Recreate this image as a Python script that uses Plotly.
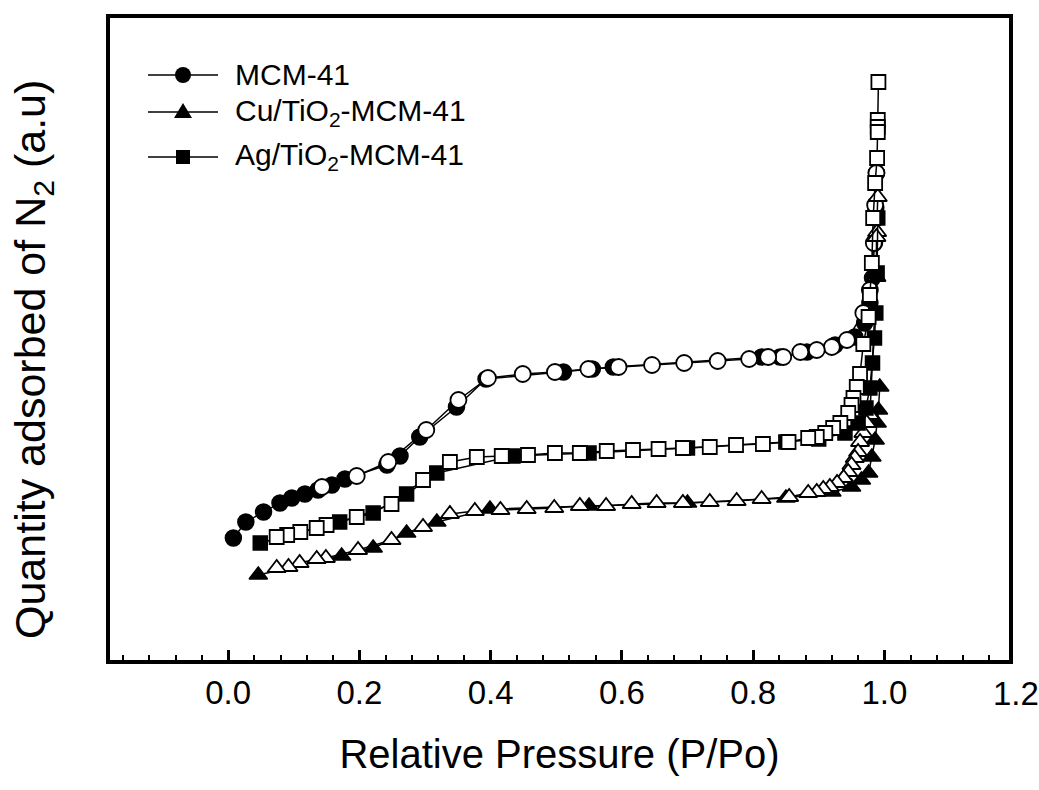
import plotly.graph_objects as go

# ---- N2 isotherm data: relative pressure P/Po vs. quantity adsorbed (a.u.) ----
# MCM-41
mcm_ads_p = [0.008, 0.027, 0.054, 0.079, 0.097, 0.117, 0.137, 0.158, 0.178, 0.242, 0.262,
             0.292, 0.348, 0.393, 0.511, 0.555, 0.587, 0.813, 0.841, 0.882, 0.925, 0.955,
             0.970, 0.978, 0.982, 0.985, 0.987, 0.988]
mcm_ads_q = [125, 141, 151, 160, 165, 169, 173, 178, 184, 198, 207,
             226, 256, 284, 291, 294, 296, 306, 306, 311, 318, 326,
             340, 360, 385, 420, 455, 490]
mcm_des_p = [0.988, 0.986, 0.984, 0.978, 0.968, 0.943, 0.920, 0.897, 0.872, 0.846, 0.823,
             0.794, 0.746, 0.695, 0.646, 0.595, 0.549, 0.498, 0.449, 0.396, 0.351, 0.302,
             0.244, 0.196, 0.143]
mcm_des_q = [490, 458, 420, 373, 350, 323, 316, 313, 311, 306, 306,
             304, 302, 300, 298, 296, 294, 291, 289, 285, 263, 233,
             201, 187, 176]

# Cu/TiO2-MCM-41
cu_ads_p = [0.046, 0.173, 0.221, 0.272, 0.318, 0.399, 0.55, 0.70, 0.85, 0.92, 0.95,
            0.965, 0.976, 0.981, 0.986, 0.989, 0.991, 0.993]
cu_ads_q = [88, 107, 115, 130, 141, 154, 157, 160, 165, 171, 176,
            183, 190, 206, 223, 240, 253, 276]
cu_des_p = [0.990, 0.989, 0.988, 0.988, 0.978, 0.973, 0.968, 0.963, 0.960, 0.955, 0.950,
            0.945, 0.938, 0.928, 0.917, 0.907, 0.897, 0.884, 0.855, 0.813, 0.775, 0.734,
            0.693, 0.653, 0.615, 0.576, 0.536, 0.497, 0.455, 0.415, 0.376, 0.338, 0.297,
            0.249, 0.198, 0.149, 0.135, 0.109, 0.092, 0.074]
cu_des_q = [466, 431, 426, 386, 248, 240, 230, 221, 211, 205, 198,
            191, 185, 180, 176, 174, 171, 170, 166, 164, 162, 161,
            160, 160, 159, 157, 157, 155, 154, 153, 152, 149, 136,
            123, 113, 105, 104, 100, 96, 95]

# Ag/TiO2-MCM-41
ag_ads_p = [0.049, 0.170, 0.221, 0.272, 0.318, 0.434, 0.55, 0.70, 0.85, 0.90, 0.94,
            0.96, 0.972, 0.978, 0.982, 0.985, 0.987, 0.989, 0.990]
ag_ads_q = [120, 141, 150, 169, 190, 207, 210, 215, 221, 224, 230,
            240, 255, 275, 300, 325, 350, 390, 445]
ag_des_p = [0.991, 0.990, 0.990, 0.990, 0.989, 0.986, 0.983, 0.981, 0.978, 0.976, 0.968,
            0.963, 0.958, 0.953, 0.950, 0.945, 0.933, 0.922, 0.910, 0.897, 0.884, 0.854,
            0.815, 0.774, 0.734, 0.693, 0.656, 0.617, 0.577, 0.536, 0.498, 0.457, 0.417,
            0.379, 0.338, 0.297, 0.249, 0.196, 0.150, 0.135, 0.110, 0.090, 0.074]
ag_des_q = [581, 543, 536, 531, 505, 480, 445, 400, 368, 346, 319,
            289, 276, 265, 258, 250, 240, 235, 230, 226, 225, 221,
            219, 218, 216, 215, 214, 213, 212, 210, 210, 208, 207,
            206, 201, 183, 159, 146, 138, 135, 131, 128, 126]

x_range = [-0.18, 1.19]
x_tick_vals = [0.0, 0.2, 0.4, 0.6, 0.8, 1.0]
x_tick_text = ["0.0", "0.2", "0.4", "0.6", "0.8", "1.0"]
x_end_label = (1.2, "1.2")   # axis stops just short of 1.2; its label is still printed

legend_labels = ["MCM-41", "Cu/TiO<sub>2</sub>-MCM-41", "Ag/TiO<sub>2</sub>-MCM-41"]
legend_symbols = ["circle", "triangle", "square"]

FONT = "Liberation Sans, Arial, Helvetica, sans-serif"
TICK_SIZE = 33

series = [
    (mcm_ads_p, mcm_ads_q, mcm_des_p, mcm_des_q, "circle", 16),
    (cu_ads_p, cu_ads_q, cu_des_p, cu_des_q, "triangle-up", 16),
    (ag_ads_p, ag_ads_q, ag_des_p, ag_des_q, "square", 14),
]

fig = go.Figure()
for ads_p, ads_q, des_p, des_q, sym, size in series:
    fig.add_trace(go.Scatter(
        x=ads_p, y=ads_q, mode="lines+markers", showlegend=False,
        line=dict(color="black", width=1.5),
        marker=dict(symbol=sym, size=size, color="black",
                    line=dict(color="black", width=1.5)),
    ))
    fig.add_trace(go.Scatter(
        x=des_p, y=des_q, mode="lines+markers", showlegend=False,
        line=dict(color="black", width=1.5),
        marker=dict(symbol=sym, size=size, color="white",
                    line=dict(color="black", width=1.8)),
    ))

# hand-drawn legend in the upper-left corner (paper coordinates)
plot_l, plot_r, plot_t, plot_b = 110, 1009, 18, 660
pw, ph = plot_r - plot_l, plot_b - plot_t
row_y_px = [75, 112, 157]
line_x0_px, line_x1_px, text_x_px = 148, 218, 233
shapes, annotations = [], []
for label, sym, ypx in zip(legend_labels, legend_symbols, row_y_px):
    yp = (plot_b - ypx) / ph
    x0 = (line_x0_px - plot_l) / pw
    x1 = (line_x1_px - plot_l) / pw
    xc = (x0 + x1) / 2
    shapes.append(dict(type="line", xref="paper", yref="paper", x0=x0, x1=x1, y0=yp, y1=yp,
                       line=dict(color="black", width=1.5)))
    if sym == "circle":
        shapes.append(dict(type="circle", xref="paper", yref="paper",
                           xsizemode="pixel", ysizemode="pixel", xanchor=xc, yanchor=yp,
                           x0=-8, x1=8, y0=-8, y1=8, fillcolor="black", line=dict(width=0)))
    elif sym == "square":
        shapes.append(dict(type="rect", xref="paper", yref="paper",
                           xsizemode="pixel", ysizemode="pixel", xanchor=xc, yanchor=yp,
                           x0=-7, x1=7, y0=-7, y1=7, fillcolor="black", line=dict(width=0)))
    else:
        shapes.append(dict(type="path", xref="paper", yref="paper",
                           xsizemode="pixel", ysizemode="pixel", xanchor=xc, yanchor=yp,
                           path="M -9 -6 L 9 -6 L 0 9 Z", fillcolor="black", line=dict(width=0)))
    annotations.append(dict(xref="paper", yref="paper", x=(text_x_px - plot_l) / pw, y=yp,
                            xanchor="left", yanchor="middle", showarrow=False, text=label,
                            font=dict(family=FONT, size=30, color="black")))

# y-axis title, placed as a rotated annotation so it can sit a little below centre
annotations.append(dict(xref="paper", yref="paper", x=(33 - plot_l) / pw, y=(plot_b - 360) / ph,
                        xanchor="center", yanchor="middle", showarrow=False, textangle=-90,
                        text="Quantity adsorbed of N<sub>2</sub> (a.u)",
                        font=dict(family=FONT, size=43, color="black")))
# end-of-axis tick label (just past the axis end, so positioned in paper units)
end_x_paper = (x_end_label[0] - x_range[0]) / (x_range[1] - x_range[0])
annotations.append(dict(xref="paper", yref="paper", x=end_x_paper, y=(plot_b - 693) / ph,
                        xanchor="center", yanchor="middle", showarrow=False,
                        text=x_end_label[1], font=dict(family=FONT, size=TICK_SIZE, color="black")))

fig.update_layout(
    width=1039, height=790,
    margin=dict(l=plot_l, r=1039 - plot_r, t=plot_t, b=790 - plot_b),
    paper_bgcolor="white", plot_bgcolor="white",
    font=dict(family=FONT, color="black"),
    shapes=shapes, annotations=annotations,
    showlegend=False,
)
fig.update_xaxes(
    range=x_range, tickvals=x_tick_vals, ticktext=x_tick_text,
    ticks="inside", ticklen=10, tickwidth=2.5, tickcolor="black",
    minor=dict(dtick=0.04, tick0=0, ticks="inside", ticklen=5, tickwidth=1.5, tickcolor="black"),
    showline=True, linewidth=4, linecolor="black", mirror=True,
    showgrid=False, zeroline=False,
    tickfont=dict(family=FONT, size=TICK_SIZE), ticklabelstandoff=0,
    title=dict(text="Relative Pressure (P/Po)", font=dict(family=FONT, size=40), standoff=31),
)
fig.update_yaxes(
    range=[3, 645], showticklabels=False, ticks="",
    showline=True, linewidth=4, linecolor="black", mirror=True,
    showgrid=False, zeroline=False,
)

fig.write_html("out.html")
